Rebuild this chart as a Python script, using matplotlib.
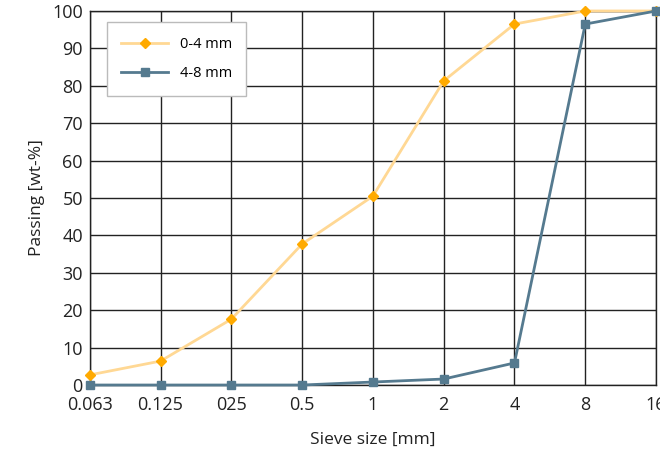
import matplotlib.pyplot as plt
import numpy as np

plt.rcParams['font.family'] = ['Open Sans', 'DejaVu Sans']

sieve_labels = ['0.063', '0.125', '025', '0.5', '1', '2', '4', '8', '16']
fine = [2.7, 6.4, 17.6, 37.7, 50.5, 81.3, 96.5, 100, 100]      # 0-4 mm
coarse = [0, 0, 0, 0, 0.8, 1.6, 5.9, 96.5, 100]               # 4-8 mm

x = np.arange(len(sieve_labels))

fig = plt.figure(figsize=(6.6, 4.5), dpi=100)
ax = fig.add_axes([0.136, 0.1444, 0.858, 0.8312])

ax.plot(x, fine, color='#FFD894', linewidth=2, marker='D', markersize=5.5,
        markerfacecolor='#FFAA00', markeredgecolor='#FFAA00', label='0-4 mm',
        clip_on=False, zorder=3)
ax.plot(x, coarse, color='#557A8F', linewidth=2, marker='s', markersize=5.5,
        markerfacecolor='#557A8F', markeredgecolor='#557A8F', label='4-8 mm',
        clip_on=False, zorder=4)

ax.set_xlim(0, len(x) - 1)
ax.set_ylim(0, 100)
ax.set_xticks(x)
ax.set_xticklabels(sieve_labels)
ax.set_yticks(np.arange(0, 101, 10))
ax.grid(True, color='#222222', linewidth=1)
ax.set_axisbelow(True)
for s in ax.spines.values():
    s.set_color('#222222')
    s.set_linewidth(1)
ax.tick_params(length=0, labelsize=13, colors='#222222')
ax.tick_params(axis='x', pad=8)
ax.tick_params(axis='y', pad=5)

ax.set_xlabel('Sieve size [mm]', fontsize=12.5, color='#222222', labelpad=13)
ax.set_ylabel('Passing [wt-%]', fontsize=12.5, color='#222222', labelpad=5)

leg = ax.legend(loc='upper left', bbox_to_anchor=(0.03, 0.97), fontsize=10.5,
                frameon=True, fancybox=False, borderpad=1.0, labelspacing=1.0,
                handlelength=3.2, borderaxespad=0)
leg.get_frame().set_edgecolor('#BBBBBB')
leg.get_frame().set_alpha(1)

fig.savefig('out.png', dpi=100)
